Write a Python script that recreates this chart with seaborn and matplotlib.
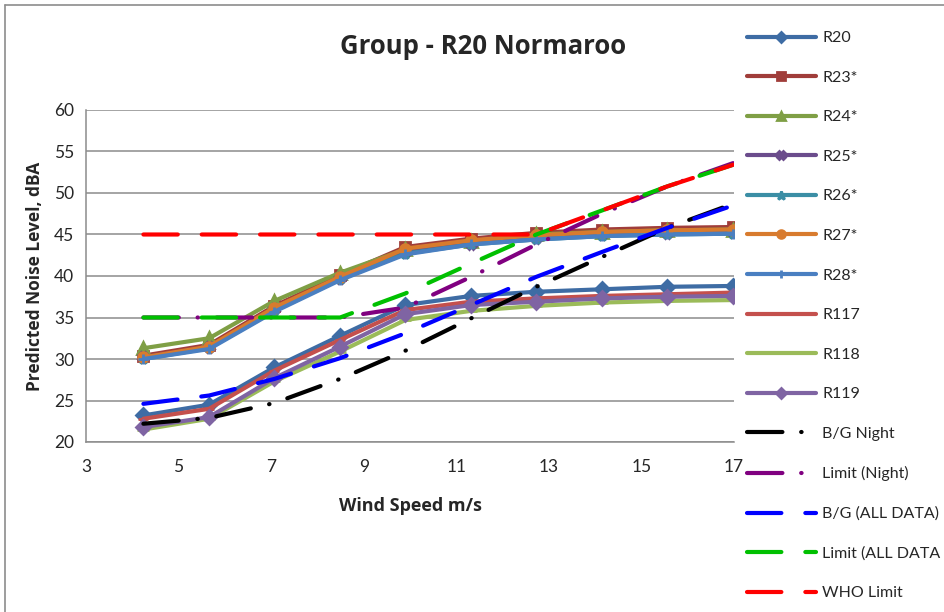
import matplotlib
matplotlib.use("Agg")
import matplotlib.pyplot as plt
import seaborn as sns

# wind speed positions of the receiver points (m/s)
wind = [4.24, 5.66, 7.07, 8.49, 9.90, 11.32, 12.73, 14.15, 15.56, 16.98, 18.39]
wind_curve = wind[:10]

# predicted noise levels, dBA
r20 = [23.2, 24.5, 29.0, 32.8, 36.5, 37.6, 38.1, 38.4, 38.7, 38.8, 38.8]
r23 = [30.4, 31.7, 36.4, 40.1, 43.5, 44.5, 45.2, 45.6, 45.8, 45.9, 45.9]
r24 = [31.3, 32.5, 37.0, 40.4, 43.2, 44.2, 45.0, 45.3, 45.5, 45.6, 45.6]
r25 = [30.2, 31.4, 36.0, 39.8, 42.9, 43.9, 44.6, 45.0, 45.2, 45.3, 45.3]
r26 = [30.0, 31.3, 35.8, 39.6, 42.7, 43.8, 44.4, 44.8, 45.0, 45.1, 45.1]
r27 = [30.2, 31.5, 36.2, 39.9, 43.3, 44.3, 44.9, 45.3, 45.5, 45.6, 45.6]
r28 = [30.0, 31.2, 35.7, 39.5, 42.6, 43.8, 44.4, 44.8, 45.0, 45.1, 45.1]
r117 = [22.8, 24.0, 28.6, 32.3, 35.9, 36.9, 37.3, 37.6, 37.8, 38.0, 38.0]
r118 = [21.5, 22.8, 27.3, 30.9, 34.7, 35.8, 36.4, 36.8, 37.0, 37.1, 37.2]
r119 = [21.8, 23.0, 27.7, 31.5, 35.4, 36.5, 36.9, 37.3, 37.5, 37.6, 37.7]

# background and limit curves
bg_night = [22.2, 22.9, 24.7, 27.6, 31.0, 34.9, 38.7, 42.3, 45.8, 48.7]
limit_night = [35.0, 35.0, 35.0, 35.0, 36.2, 39.9, 43.8, 47.5, 50.8, 53.6]
bg_all = [24.6, 25.6, 27.6, 30.1, 33.1, 36.5, 39.9, 42.9, 45.8, 48.5]
limit_all = [35.0, 35.0, 35.0, 35.0, 37.9, 41.5, 45.0, 47.9, 50.8, 53.4]
who_limit = [45.0, 45.0, 45.0, 45.0, 45.0, 45.0, 45.0, 47.9, 50.8, 53.4]

sns.set_style("white")
plt.rcParams["font.family"] = ["Lato", "DejaVu Sans"]
bold_font = ["Open Sans", "DejaVu Sans"]

fig = plt.figure(figsize=(9.44, 6.12), dpi=100)
ax = fig.add_axes([86 / 944, 1 - 442 / 612, (734 - 86) / 944, (442 - 110) / 612])

stations = [
    ("R20", r20, "#3E6CA4", "D", 7),
    ("R23*", r23, "#A03D3A", "s", 7),
    ("R24*", r24, "#7F9F45", "^", 8),
    ("R25*", r25, "#6B4C8C", "X", 7),
    ("R26*", r26, "#3B8EA5", "*", 8),
    ("R27*", r27, "#D87B2E", "o", 7),
    ("R28*", r28, "#4A7FC1", "+", 7),
    ("R117", r117, "#C4504D", "_", 7),
    ("R118", r118, "#9BBB59", "_", 9),
    ("R119", r119, "#7F64A3", "D", 7),
]
for name, vals, col, mk, ms in stations:
    sns.lineplot(x=wind, y=vals, ax=ax, color=col, lw=3, marker=mk, markersize=ms,
                 markeredgecolor=col, markeredgewidth=2, label=name)

dashdot = (0, (8.5, 4.5, 0.1, 4.5))
dashed = (0, (8.25, 5.75))
curves = [
    ("B/G Night", bg_night, "#000000", dashdot),
    ("Limit (Night)", limit_night, "#800080", dashdot),
    ("B/G (ALL DATA)", bg_all, "#0000FF", dashed),
    ("Limit (ALL DATA", limit_all, "#00C000", dashed),
    ("WHO Limit", who_limit, "#FF0000", dashed),
]
for name, vals, col, ls in curves:
    line = sns.lineplot(x=wind_curve, y=vals, ax=ax, color=col, lw=3,
                        linestyle=ls, label=name).lines[-1]
    line.set_dash_capstyle("round")

ax.set_xlim(3, 17)
ax.set_ylim(20, 60)
ax.set_xticks(range(3, 18, 2))
ax.set_yticks(range(20, 61, 5))
ax.yaxis.grid(True, color="#8C8C8C", lw=1.1)
ax.set_axisbelow(True)
for s in ["top", "right"]:
    ax.spines[s].set_visible(False)
for s in ["left", "bottom"]:
    ax.spines[s].set_color("#8C8C8C")
    ax.spines[s].set_linewidth(1.1)
ax.tick_params(axis="both", which="both", direction="out", length=5, width=1.1,
               color="#8C8C8C", labelsize=12.5)
ax.tick_params(axis="x", pad=7)
ax.set_xlabel("Wind Speed m/s", fontsize=13, fontweight="bold", family=bold_font, labelpad=16)
ax.set_ylabel("Predicted Noise Level, dBA", fontsize=12.5, fontweight="bold",
              family=bold_font, labelpad=7)

handles, labels = ax.get_legend_handles_labels()
ax.get_legend().remove()
fig.legend(handles, labels, loc="upper left", bbox_to_anchor=(747 / 944, 1 - 31 / 612),
           frameon=False, fontsize=11.5, handlelength=4.3, handletextpad=0.4,
           labelspacing=1.59, borderpad=0, borderaxespad=0, markerscale=0.8)

fig.text(483 / 944, 1 - 46 / 612, "Group - R20 Normaroo", fontsize=18.5,
         fontweight="bold", family=bold_font, ha="center", va="center")

# chart area border (top and left edges visible)
fig.add_artist(plt.Line2D([5 / 944, 1], [1 - 5 / 612, 1 - 5 / 612], transform=fig.transFigure,
                          color="#8C8C8C", lw=1.2))
fig.add_artist(plt.Line2D([5 / 944, 5 / 944], [0, 1 - 5 / 612], transform=fig.transFigure,
                          color="#8C8C8C", lw=1.2))

fig.savefig("out.png", dpi=100)
